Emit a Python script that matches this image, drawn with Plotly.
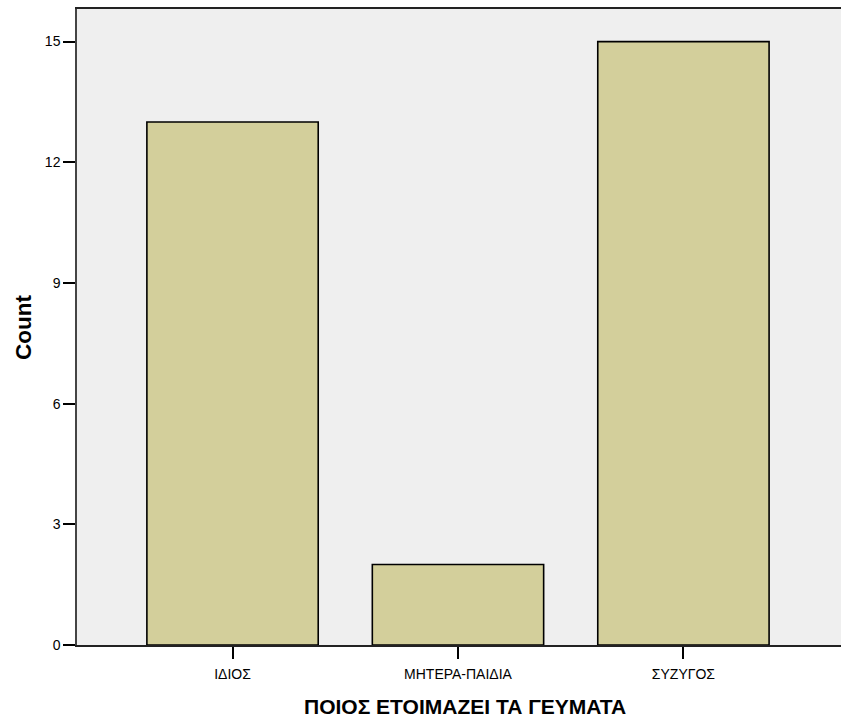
import plotly.graph_objects as go

# Who prepares the meals: counts per category
categories = ["ΙΔΙΟΣ", "ΜΗΤΕΡΑ-ΠΑΙΔΙΑ", "ΣΥΖΥΓΟΣ"]
counts = [13, 2, 15]
y_ticks = [0, 3, 6, 9, 12, 15]

x_title = "ΠΟΙΟΣ ΕΤΟΙΜΑΖΕΙ ΤΑ ΓΕΥΜΑΤΑ"
y_title = "Count"

FONT = "Arial, 'Liberation Sans', sans-serif"
W, H = 841, 719
L, R, T, B = 77, 0, 9, 74
plot_w = W - L - R
plot_h = H - T - B

fig = go.Figure(
    go.Bar(
        x=categories,
        y=counts,
        width=0.76,
        marker=dict(color="#d3cf9b", line=dict(color="#000000", width=1.6)),
        hoverinfo="x+y",
    )
)

fig.update_layout(
    width=W,
    height=H,
    margin=dict(l=L, r=R, t=T, b=B),
    paper_bgcolor="#ffffff",
    plot_bgcolor="#efefef",
    showlegend=False,
    font=dict(family=FONT, size=14, color="#000000"),
)

fig.update_xaxes(
    type="category",
    range=[-0.69, 2.699],
    showgrid=False,
    zeroline=False,
    showline=True,
    linecolor="#222222",
    linewidth=1.5,
    mirror=True,
    ticks="outside",
    ticklen=12,
    tickwidth=1.5,
    tickcolor="#000000",
    ticklabelstandoff=3,
    tickfont=dict(size=14, family=FONT),
)

fig.update_yaxes(
    range=[0, 15.81],
    tickvals=y_ticks,
    ticktext=[str(v) for v in y_ticks],
    showgrid=False,
    zeroline=False,
    showline=True,
    linecolor="#444444",
    linewidth=1.5,
    ticks="outside",
    ticklen=12,
    tickwidth=1.5,
    tickcolor="#000000",
    tickfont=dict(size=14, family=FONT),
)

# Axis titles placed as annotations
fig.add_annotation(
    text="<b>" + x_title + "</b>",
    xref="paper", yref="paper",
    x=(465.5 - L) / plot_w, y=-(706 - (H - B)) / plot_h,
    xanchor="center", yanchor="middle",
    showarrow=False,
    font=dict(size=21, family=FONT, color="#000000"),
)
fig.add_annotation(
    text="<b>" + y_title + "</b>",
    xref="paper", yref="paper",
    x=(23 - L) / plot_w, y=((H - B) - 327) / plot_h,
    xanchor="center", yanchor="middle",
    textangle=-90,
    showarrow=False,
    font=dict(size=22.5, family=FONT, color="#000000"),
)

fig.write_html("out.html")
